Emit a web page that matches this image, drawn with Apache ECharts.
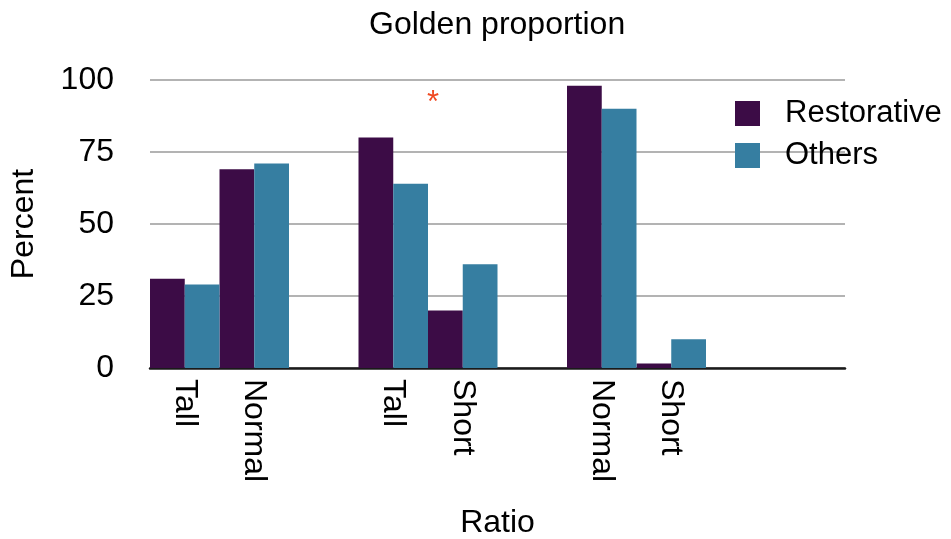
<!DOCTYPE html>
<html>
<head>
<meta charset="utf-8">
<script src="https://cdn.jsdelivr.net/npm/echarts@6/dist/echarts.min.js"></script>
<style>
  html, body { margin: 0; padding: 0; background: #ffffff; }
  #chart { width: 951px; height: 539px; }
</style>
</head>
<body>
<div id="chart"></div>
<script>
// Ratio categories (blank slots separate the three groups)
const categories = ['Tall', 'Normal', '', 'Tall', 'Short', '', 'Normal', 'Short', '', ''];
// Percent of cases per group
const restorative = [31, 69, null, 80, 20, null, 98, 1.6, null, null];
const others = [29, 71, null, 64, 36, null, 90, 10, null, null];
const yTicks = [0, 25, 50, 75, 100];

const FONT = "'Liberation Sans', Arial, sans-serif";
const FS = 32;
const chart = echarts.init(document.getElementById('chart'), null, { renderer: 'canvas' });

chart.setOption({
  animation: false,
  backgroundColor: '#ffffff',
  textStyle: { fontFamily: FONT, color: '#000000' },
  title: {
    text: 'Golden proportion',
    left: 369,
    top: 9,
    padding: 0,
    textStyle: { fontFamily: FONT, fontSize: FS, fontWeight: 'normal', color: '#000000' }
  },
  legend: {
    orient: 'vertical',
    left: 735,
    top: 98,
    padding: 0,
    itemWidth: 25,
    itemHeight: 25,
    itemGap: 11,
    icon: 'rect',
    textStyle: { fontFamily: FONT, fontSize: 31, color: '#000000', padding: [0, 0, 0, 20] },
    data: ['Restorative', 'Others']
  },
  grid: {
    left: 150, right: 106, top: 80, bottom: 171,
    containLabel: false,
    outerBoundsMode: 'none'
  },
  xAxis: {
    type: 'category',
    data: categories,
    name: 'Ratio',
    nameLocation: 'middle',
    nameGap: 139,
    nameTextStyle: { fontFamily: FONT, fontSize: FS, color: '#000000' },
    axisLine: { show: true, lineStyle: { color: '#1a1a1a', width: 2.5 } },
    axisTick: { show: false },
    axisLabel: {
      interval: 0,
      rotate: -90,
      margin: 11,
      fontFamily: FONT,
      fontSize: FS,
      color: '#000000'
    },
    splitLine: { show: false }
  },
  yAxis: {
    type: 'value',
    min: yTicks[0],
    max: yTicks[yTicks.length - 1],
    interval: 25,
    name: 'Percent',
    nameLocation: 'middle',
    nameGap: 110,
    nameTextStyle: { fontFamily: FONT, fontSize: FS, color: '#000000' },
    axisLine: { show: false },
    axisTick: { show: false },
    axisLabel: { margin: 36, fontFamily: FONT, fontSize: FS, color: '#000000' },
    splitLine: { show: true, lineStyle: { color: '#b3b3b3', width: 2 } }
  },
  series: [
    {
      name: 'Restorative',
      type: 'bar',
      data: restorative,
      barGap: '0%',
      barCategoryGap: '0%',
      itemStyle: { color: '#3c0c46' }
    },
    {
      name: 'Others',
      type: 'bar',
      data: others,
      barGap: '0%',
      barCategoryGap: '0%',
      itemStyle: { color: '#367ea1' }
    }
  ],
  graphic: [
    {
      type: 'text',
      left: 427,
      top: 88,
      silent: true,
      style: { text: '*', fontFamily: FONT, fontSize: 31, fill: '#f04a22' }
    }
  ]
});
</script>
</body>
</html>
